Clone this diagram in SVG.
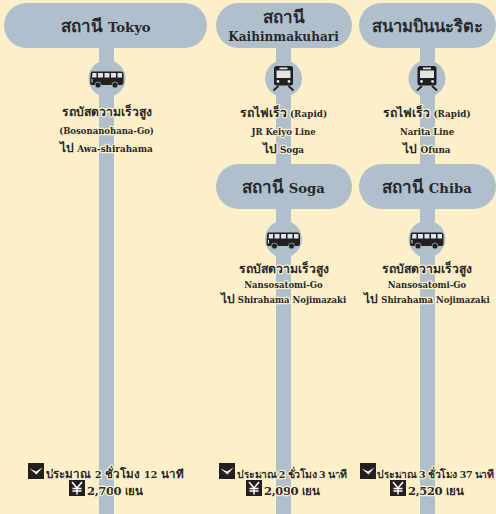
<svg xmlns="http://www.w3.org/2000/svg" width="496" height="514" viewBox="0 0 496 514">
<style>
.stem,.pill,.disc{fill:#afc0cc}
text{font-family:"DejaVu Serif","Noto Sans",sans-serif;font-weight:700;fill:#29272a;text-anchor:middle;paint-order:stroke;stroke:#fdf0c8;stroke-width:2.5px;stroke-linejoin:round}
.t{font-size:13.2px;stroke:none}
.k{font-size:12.1px;stroke:none}
.m{font-size:8.8px}
.s{font-size:8.5px}
.f{font-size:9.5px;text-anchor:start}
.y{font-size:11.5px;text-anchor:start}
.a{font-size:17px}
.b{font-size:12.2px}
.c{font-size:12px}
.d{font-size:11.6px}
.e{font-size:10.6px}
.box{fill:#231f20}
</style>
<defs>
<g id="bus">
<path fill="#231f20" d="M-15-6.500H14Q16.500-6.500 16.500-4V5Q16.500 7 14.500 7H-15Q-17 7-17 5L-16.500-2Q-16.500-6.500-15-6.500Z"/>
<circle cx="-9" cy="7" r="3" fill="#231f20" stroke="#afc0cc" stroke-width=".7"/><circle cx="8" cy="7" r="3" fill="#231f20" stroke="#afc0cc" stroke-width=".7"/>
<path fill="#dfe6e8" d="M-14.500-5H-10.500V-.5H-15ZM-9-5H-4V-.5H-9ZM-2.500-5H2.500V-.5H-2.500ZM4-5H9V-.5H4ZM10.500-5H15V-.5H10.500ZM-15.500 1H-14.500V4.500H-15.500Z"/>
</g>
<g id="train">
<rect x="-9.500" y="-10" width="19" height="19.500" rx="2.500" fill="#231f20"/>
<rect x="-7" y="-5.500" width="14" height="7.500" fill="#dfe6e8"/>
<rect x="-4" y="-8.500" width="8" height="1.800" fill="#dfe6e8"/>
<circle cx="-5.500" cy="5.500" r="1.400" fill="#dfe6e8"/><circle cx="5.500" cy="5.500" r="1.400" fill="#dfe6e8"/>
<path d="M-5 10L-10 14.500M5 10L10 14.500" stroke="#231f20" stroke-width="1.800" fill="none"/>
</g>
<g id="clock">
<rect width="16" height="16" class="box"/>
<path d="M1.500 5.500L8 8.500L14.500 4.500L8.500 11.500Z" fill="#fff"/>
</g>
<g id="yen">
<rect width="16" height="16" class="box"/>
<path d="M3 2L8 8L13 2M8 8V14.500M3.500 8.500H12.500M3.500 11H12.500" stroke="#fff" stroke-width="1.500" fill="none"/>
</g>
</defs>
<rect width="496" height="514" fill="#fdf0c8"/>
<g id="connectors">
<rect class="stem" x="99" y="40" width="15" height="474"/>
<rect class="stem" x="276" y="40" width="15" height="474"/>
<rect class="stem" x="420" y="40" width="15" height="474"/>
</g>
<g id="node-tokyo"><rect class="pill" x="4" y="3" width="203" height="45" rx="22.500"/><text class="t" x="106" y="32"><tspan class="a">สถานี</tspan> Tokyo</text></g>
<g id="node-kaihin"><rect class="pill" x="216" y="3" width="136" height="45" rx="22.500"/><text class="t" x="283.500" y="23"><tspan class="a">สถานี</tspan></text><text class="k" x="283.500" y="41">Kaihinmakuhari</text></g>
<g id="node-narita"><rect class="pill" x="359" y="3" width="137" height="45" rx="22.500"/><text class="t" x="427" y="32"><tspan style="font-size:16.500px">สนามบินนะริตะ</tspan></text></g>
<g id="node-soga"><rect class="pill" x="216" y="164" width="136" height="45" rx="22.500"/><text class="t" x="283.500" y="193"><tspan class="a">สถานี</tspan> Soga</text></g>
<g id="node-chiba"><rect class="pill" x="359" y="164" width="137" height="45" rx="22.500"/><text class="t" x="427" y="193"><tspan class="a">สถานี</tspan> Chiba</text></g>
<g id="leg-tokyo">
<circle class="disc" cx="107" cy="78.500" r="18.500"/><use href="#bus" x="107" y="78"/>
<text class="b" x="106.500" y="116">รถบัสดวามเร็วสูง</text>
<text class="s" x="106.500" y="134">(Bosonanohana-Go)</text>
<text class="m" x="106.500" y="152"><tspan class="c">ไป</tspan> Awa-shirahama</text>
</g>
<g id="leg-kaihin">
<circle class="disc" cx="283.500" cy="78.500" r="18.500"/><use href="#train" x="283.500" y="76"/>
<text class="m" x="283.500" y="117"><tspan class="b">รถไฟเร็ว</tspan> (Rapid)</text>
<text class="s" x="283.500" y="135">JR Keiyo Line</text>
<text class="m" x="283.500" y="153"><tspan class="c">ไป</tspan> Soga</text>
</g>
<g id="leg-narita">
<circle class="disc" cx="427" cy="78.500" r="18.500"/><use href="#train" x="427" y="76"/>
<text class="m" x="427" y="117"><tspan class="b">รถไฟเร็ว</tspan> (Rapid)</text>
<text class="s" x="427" y="135">Narita Line</text>
<text class="m" x="427" y="153"><tspan class="c">ไป</tspan> Ofuna</text>
</g>
<g id="leg-soga">
<circle class="disc" cx="283.500" cy="239" r="18.500"/><use href="#bus" x="283.500" y="239"/>
<text class="b" x="283.500" y="273">รถบัสดวามเร็วสูง</text>
<text class="s" x="283.500" y="288">Nansosatomi-Go</text>
<text class="s" x="283.500" y="303"><tspan class="c">ไป</tspan> Shirahama Nojimazaki</text>
</g>
<g id="leg-chiba">
<circle class="disc" cx="427" cy="239" r="18.500"/><use href="#bus" x="427" y="239"/>
<text class="b" x="427" y="273">รถบัสดวามเร็วสูง</text>
<text class="s" x="427" y="288">Nansosatomi-Go</text>
<text class="s" x="427" y="303"><tspan class="c">ไป</tspan> Shirahama Nojimazaki</text>
</g>
<g id="fare-tokyo">
<use href="#clock" x="28" y="463"/><text class="f" x="46" y="478" textLength="138"><tspan class="d">ประมาณ</tspan> 2 <tspan class="d">ชั่วโมง</tspan> 12 <tspan class="d">นาที</tspan></text>
<use href="#yen" x="69" y="480"/><text class="y" x="87" y="495" textLength="56">2,700 <tspan class="d">เยน</tspan></text>
</g>
<g id="fare-soga">
<use href="#clock" x="219" y="463"/><text class="f" x="237" y="478" textLength="110"><tspan class="e">ประมาณ</tspan> 2 <tspan class="e">ชั่วโมง</tspan> 3 <tspan class="e">นาที</tspan></text>
<use href="#yen" x="246" y="480"/><text class="y" x="264" y="495" textLength="56">2,090 <tspan class="d">เยน</tspan></text>
</g>
<g id="fare-chiba">
<use href="#clock" x="360" y="463"/><text class="f" x="377" y="478" textLength="117"><tspan class="e">ประมาณ</tspan> 3 <tspan class="e">ชั่วโมง</tspan> 37 <tspan class="e">นาที</tspan></text>
<use href="#yen" x="390" y="480"/><text class="y" x="408" y="495" textLength="56">2,520 <tspan class="d">เยน</tspan></text>
</g>
</svg>
